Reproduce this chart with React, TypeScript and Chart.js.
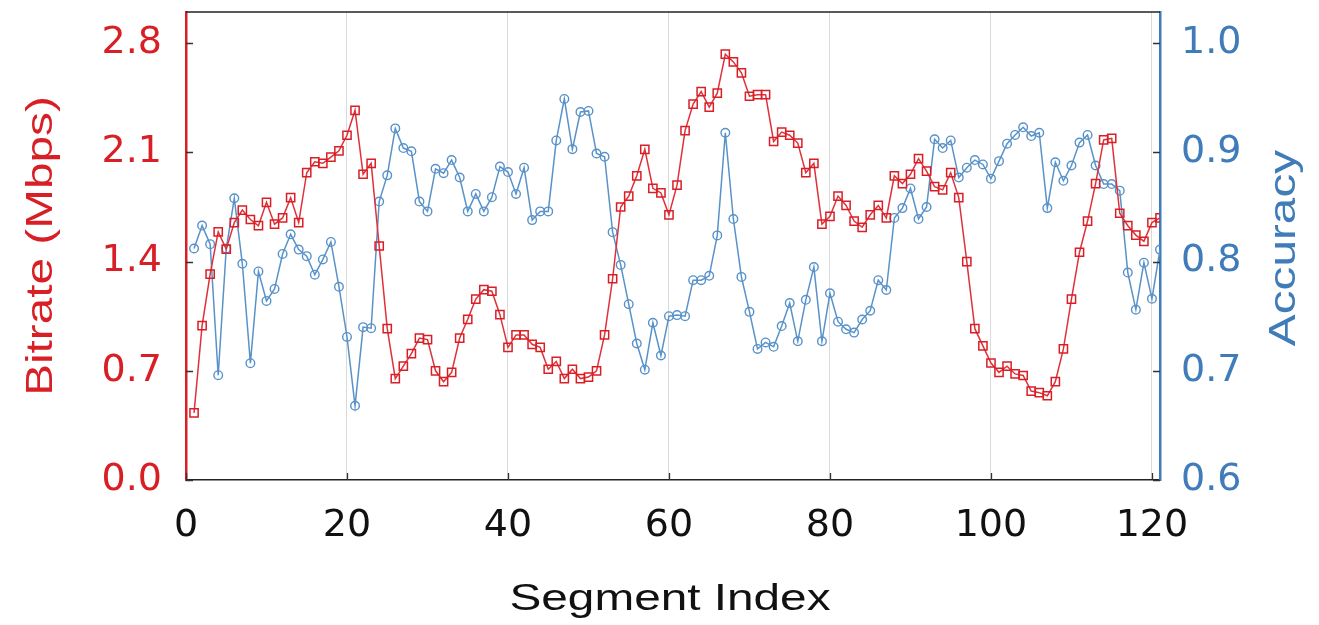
import React, { useEffect, useRef } from 'react';
import { Chart, registerables } from 'chart.js';

Chart.register(...registerables);

// ---------- data ----------
const segmentIndex = [
  1, 2, 3, 4, 5, 6, 7, 8, 9, 10, 11, 12, 13, 14, 15, 16, 17, 18, 19, 20,
  21, 22, 23, 24, 25, 26, 27, 28, 29, 30, 31, 32, 33, 34, 35, 36, 37, 38, 39, 40,
  41, 42, 43, 44, 45, 46, 47, 48, 49, 50, 51, 52, 53, 54, 55, 56, 57, 58, 59, 60,
  61, 62, 63, 64, 65, 66, 67, 68, 69, 70, 71, 72, 73, 74, 75, 76, 77, 78, 79, 80,
  81, 82, 83, 84, 85, 86, 87, 88, 89, 90, 91, 92, 93, 94, 95, 96, 97, 98, 99, 100,
  101, 102, 103, 104, 105, 106, 107, 108, 109, 110, 111, 112, 113, 114, 115, 116, 117, 118, 119, 120,
  121,
];

const bitrateMbps = [
  0.43, 0.99, 1.32, 1.59, 1.48, 1.65, 1.73, 1.67, 1.63, 1.78, 1.64, 1.68, 1.81, 1.65, 1.97, 2.04, 2.03, 2.07, 2.11, 2.21,
  2.37, 1.96, 2.03, 1.50, 0.97, 0.65, 0.73, 0.81, 0.91, 0.90, 0.70, 0.63, 0.69, 0.91, 1.03, 1.16, 1.22, 1.21, 1.06, 0.85,
  0.93, 0.93, 0.87, 0.85, 0.71, 0.76, 0.65, 0.71, 0.65, 0.66, 0.70, 0.93, 1.29, 1.75, 1.82, 1.95, 2.12, 1.87, 1.84, 1.70,
  1.89, 2.24, 2.41, 2.49, 2.39, 2.48, 2.73, 2.68, 2.61, 2.46, 2.47, 2.47, 2.17, 2.23, 2.21, 2.16, 1.97, 2.03, 1.64, 1.69,
  1.82, 1.76, 1.66, 1.62, 1.70, 1.76, 1.68, 1.95, 1.90, 1.96, 2.06, 1.98, 1.88, 1.86, 1.97, 1.81, 1.40, 0.97, 0.86, 0.75,
  0.69, 0.73, 0.68, 0.67, 0.57, 0.56, 0.54, 0.63, 0.84, 1.16, 1.46, 1.66, 1.90, 2.18, 2.19, 1.71, 1.63, 1.57, 1.53, 1.65,
  1.68,
];

const accuracy = [
  0.812, 0.833, 0.816, 0.696, 0.812, 0.858, 0.798, 0.707, 0.791, 0.764, 0.775, 0.807, 0.825, 0.811, 0.805, 0.788, 0.802, 0.818, 0.777, 0.731,
  0.668, 0.740, 0.739, 0.855, 0.879, 0.922, 0.904, 0.901, 0.855, 0.846, 0.885, 0.881, 0.893, 0.877, 0.846, 0.862, 0.846, 0.859, 0.887, 0.882,
  0.862, 0.886, 0.838, 0.846, 0.846, 0.911, 0.949, 0.903, 0.937, 0.938, 0.899, 0.896, 0.827, 0.797, 0.761, 0.725, 0.701, 0.744, 0.714, 0.750,
  0.751, 0.750, 0.783, 0.783, 0.787, 0.824, 0.918, 0.839, 0.786, 0.754, 0.720, 0.726, 0.722, 0.741, 0.762, 0.727, 0.765, 0.795, 0.727, 0.771,
  0.745, 0.738, 0.735, 0.747, 0.755, 0.783, 0.774, 0.840, 0.849, 0.867, 0.839, 0.850, 0.912, 0.904, 0.911, 0.877, 0.886, 0.893, 0.889, 0.876,
  0.892, 0.908, 0.916, 0.923, 0.915, 0.918, 0.849, 0.891, 0.874, 0.888, 0.909, 0.916, 0.888, 0.871, 0.871, 0.865, 0.790, 0.756, 0.799, 0.766,
  0.811,
];

const xTickValues = [0, 20, 40, 60, 80, 100, 120];
const bitrateTickValues = [0, 0.7, 1.4, 2.1, 2.8];
const accuracyTickValues = [0.6, 0.7, 0.8, 0.9, 1.0];

const xTitle = 'Segment Index';
const bitrateTitle = 'Bitrate (Mbps)';
const accuracyTitle = 'Accuracy';

// ---------- style ----------
const RED = '#d81f26';
const RED_LINE = '#e0303a';
const BLUE = '#3f7cb9';
const BLUE_LINE = '#5892c9';
const TICK_FONT = { family: '"DejaVu Sans", sans-serif', size: 38 };

const W = 1319;
const H = 625;
const LEFT_W = 186;
const RIGHT_W = 159;
const BOTTOM_H = 145;
const TOP_PAD = 12;

function drawStretchedText(ctx: CanvasRenderingContext2D, text: string, x: number, y: number, rot: number, color: string) {
  ctx.save();
  ctx.translate(x, y);
  ctx.rotate(rot);
  ctx.scale(1.29, 1);
  ctx.font = '37px "Liberation Sans", Arial, sans-serif';
  ctx.fillStyle = color;
  ctx.textAlign = 'center';
  ctx.textBaseline = 'alphabetic';
  ctx.fillText(text, 0, 0);
  ctx.restore();
}

const decorations = {
  id: 'decorations',
  afterDraw(chart: any) {
    const { ctx, chartArea: ca, scales } = chart;
    ctx.save();
    // top frame line
    ctx.strokeStyle = '#222';
    ctx.lineWidth = 1.5;
    ctx.beginPath();
    ctx.moveTo(ca.left, ca.top);
    ctx.lineTo(ca.right, ca.top);
    ctx.stroke();

    // inward tick marks
    ctx.strokeStyle = '#333';
    ctx.lineWidth = 1.3;
    ctx.beginPath();
    scales.y.ticks.forEach((t: any) => {
      const py = Math.round(scales.y.getPixelForValue(t.value)) + 0.5;
      ctx.moveTo(ca.left, py);
      ctx.lineTo(ca.left + 7, py);
    });
    scales.y2.ticks.forEach((t: any) => {
      const py = Math.round(scales.y2.getPixelForValue(t.value)) + 0.5;
      ctx.moveTo(ca.right, py);
      ctx.lineTo(ca.right - 7, py);
    });
    scales.x.ticks.forEach((t: any) => {
      const px = Math.round(scales.x.getPixelForValue(t.value)) + 0.5;
      ctx.moveTo(px, ca.bottom);
      ctx.lineTo(px, ca.bottom - 7);
    });
    ctx.stroke();
    ctx.restore();

    // axis titles
    drawStretchedText(ctx, bitrateTitle, 51.5, (ca.top + ca.bottom) / 2, -Math.PI / 2, RED);
    drawStretchedText(ctx, accuracyTitle, 1295, (ca.top + ca.bottom) / 2 + 2, -Math.PI / 2, BLUE);
    drawStretchedText(ctx, xTitle, 670, 610, 0, '#111');
  },
};

export default function App() {
  const canvasRef = useRef<HTMLCanvasElement | null>(null);

  useEffect(() => {
    const canvas = canvasRef.current;
    if (!canvas) return;

    const bitratePoints = segmentIndex.map((x, i) => ({ x, y: bitrateMbps[i] }));
    const accuracyPoints = segmentIndex.map((x, i) => ({ x, y: accuracy[i] }));

    const chart = new Chart(canvas, {
      type: 'line',
      data: {
        datasets: [
          {
            label: 'Bitrate',
            data: bitratePoints,
            yAxisID: 'y',
            borderColor: RED_LINE,
            borderWidth: 1.5,
            pointStyle: 'rect',
            pointRadius: 5.8,
            pointBorderColor: RED,
            pointBackgroundColor: 'rgba(0,0,0,0)',
            pointBorderWidth: 1.5,
            tension: 0,
            fill: false,
          },
          {
            label: 'Accuracy',
            data: accuracyPoints,
            yAxisID: 'y2',
            borderColor: BLUE_LINE,
            borderWidth: 1.5,
            pointStyle: 'circle',
            pointRadius: 4.3,
            pointBorderColor: BLUE_LINE,
            pointBackgroundColor: 'rgba(0,0,0,0)',
            pointBorderWidth: 1.4,
            tension: 0,
            fill: false,
          },
        ],
      },
      options: {
        responsive: false,
        animation: false,
        devicePixelRatio: 1,
        layout: { padding: { top: TOP_PAD, left: 0, right: 0, bottom: 0 } },
        plugins: {
          legend: { display: false },
          tooltip: { enabled: false },
        },
        scales: {
          x: {
            type: 'linear',
            position: 'bottom',
            min: 0,
            max: 121,
            afterBuildTicks: (s: any) => {
              s.ticks = xTickValues.map((v) => ({ value: v }));
            },
            afterFit: (s: any) => {
              s.height = BOTTOM_H;
              s.paddingLeft = 0;
              s.paddingRight = 0;
            },
            grid: {
              display: true,
              drawTicks: false,
              color: (c: any) => (c.tick && c.tick.value > 0 ? '#dadada' : 'rgba(0,0,0,0)'),
              lineWidth: 1,
            },
            border: { display: true, color: '#222', width: 1.5 },
            ticks: {
              font: TICK_FONT,
              color: '#111',
              padding: 23,
              maxRotation: 0,
              autoSkip: false,
              callback: (v: any) => String(v),
            },
          },
          y: {
            type: 'linear',
            position: 'left',
            min: 0,
            max: 3.0,
            afterBuildTicks: (s: any) => {
              s.ticks = bitrateTickValues.map((v) => ({ value: v }));
            },
            afterFit: (s: any) => {
              s.width = LEFT_W;
              s.paddingTop = 0;
              s.paddingBottom = 0;
            },
            grid: { display: true, drawOnChartArea: false, drawTicks: false, color: 'rgba(0,0,0,0)' },
            border: { display: true, color: RED, width: 2.5 },
            ticks: {
              font: TICK_FONT,
              color: RED,
              padding: 24,
              autoSkip: false,
              callback: (v: any) => Number(v).toFixed(1),
            },
          },
          y2: {
            type: 'linear',
            position: 'right',
            min: 0.6,
            max: 1.0286,
            afterBuildTicks: (s: any) => {
              s.ticks = accuracyTickValues.map((v) => ({ value: v }));
            },
            afterFit: (s: any) => {
              s.width = RIGHT_W;
              s.paddingTop = 0;
              s.paddingBottom = 0;
            },
            grid: { display: true, drawOnChartArea: false, drawTicks: false, color: 'rgba(0,0,0,0)' },
            border: { display: true, color: BLUE, width: 2.5 },
            ticks: {
              font: TICK_FONT,
              color: BLUE,
              padding: 21,
              autoSkip: false,
              callback: (v: any) => Number(v).toFixed(1),
            },
          },
        },
      },
      plugins: [decorations],
    } as any);

    return () => {
      chart.destroy();
    };
  }, []);

  return (
    <div style={{ position: 'fixed', left: 0, top: 0, width: W, height: H, background: '#ffffff' }}>
      <canvas ref={canvasRef} width={W} height={H} style={{ display: 'block', width: W, height: H }} />
    </div>
  );
}
